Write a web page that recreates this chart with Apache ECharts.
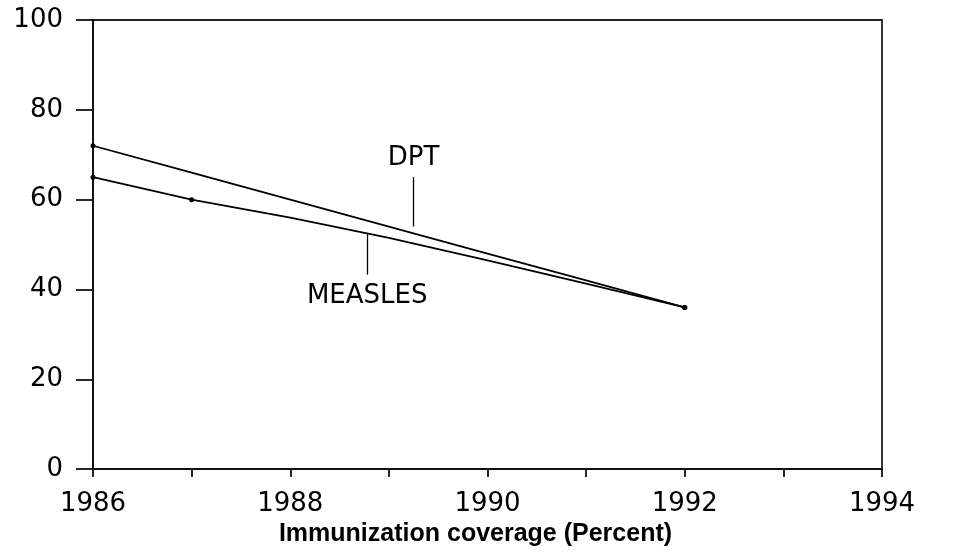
<!DOCTYPE html>
<html>
<head>
<meta charset="utf-8">
<script src="https://cdn.jsdelivr.net/npm/echarts@6/dist/echarts.min.js"></script>
<style>
html,body{margin:0;padding:0;background:#fff;}
#chart{width:968px;height:552px;}
</style>
</head>
<body>
<div id="chart"></div>
<script>
var years = [1986, 1987, 1988, 1989, 1990, 1991, 1992];
var dpt = [72, 66, 60, 54, 48, 42, 36];
var measles = [65, 60, 56, 51.5, 46.5, 41.3, 36];
var markedYearsDPT = [1986, 1992];
var markedYearsMeasles = [1986, 1987, 1992];
var xTickLabels = ['1986', '1988', '1990', '1992', '1994'];
var yTickLabels = ['0', '20', '40', '60', '80', '100'];
var xTitle = 'Immunization coverage (Percent)';
var dptLabel = 'DPT';
var measlesLabel = 'MEASLES';
var dptLeader = {x: 1989.25, from: 54, to: 65};
var measlesLeader = {x: 1988.78, from: 52.3, to: 43.3};

function buildData(vals, marked) {
  return years.map(function (y, i) {
    var item = {value: [y, vals[i]]};
    if (marked.indexOf(y) < 0) item.symbol = 'none';
    return item;
  });
}

var labelFont = 'DejaVu Sans';
var chart = echarts.init(document.getElementById('chart'), null, {renderer: 'canvas'});
chart.setOption({
  animation: false,
  backgroundColor: '#ffffff',
  grid: {left: 93, right: 86, top: 20, bottom: 82, show: true, borderColor: '#222', borderWidth: 1.8, backgroundColor: 'transparent'},
  xAxis: {
    type: 'value', min: 1986, max: 1994, interval: 1,
    name: xTitle, nameLocation: 'middle', nameGap: 49,
    nameTextStyle: {fontFamily: 'Liberation Sans', fontWeight: 'bold', fontSize: 25, color: '#000', padding: [0, 24, 0, 0]},
    axisLine: {show: true, onZero: false, lineStyle: {color: '#111', width: 1.8}},
    axisTick: {show: true, length: 8, lineStyle: {color: '#111', width: 1.8}},
    splitLine: {show: false},
    axisLabel: {
      margin: 22, color: '#000', fontFamily: labelFont, fontSize: 26,
      formatter: function (v) { var s = String(v); return xTickLabels.indexOf(s) >= 0 ? s : ''; }
    }
  },
  yAxis: {
    type: 'value', min: 0, max: 100, interval: 20,
    axisLine: {show: true, onZero: false, lineStyle: {color: '#111', width: 1.8}},
    axisTick: {show: true, length: 17, lineStyle: {color: '#111', width: 1.8}},
    splitLine: {show: false},
    axisLabel: {
      margin: 30, color: '#000', fontFamily: labelFont, fontSize: 26,
      formatter: function (v) { var s = String(v); return yTickLabels.indexOf(s) >= 0 ? s : ''; }
    }
  },
  series: [
    {
      name: 'DPT', type: 'line', data: buildData(dpt, markedYearsDPT),
      symbol: 'circle', symbolSize: 5, showSymbol: true,
      lineStyle: {color: '#000', width: 1.8}, itemStyle: {color: '#000'},
      markLine: {
        silent: true, symbol: ['none', 'none'],
        lineStyle: {color: '#000', width: 1.3, type: 'solid'},
        label: {show: true, position: 'end', distance: 6, formatter: dptLabel, color: '#000', fontFamily: labelFont, fontSize: 26},
        data: [[{coord: [dptLeader.x, dptLeader.from]}, {coord: [dptLeader.x, dptLeader.to]}]]
      }
    },
    {
      name: 'MEASLES', type: 'line', data: buildData(measles, markedYearsMeasles),
      symbol: 'circle', symbolSize: 5, showSymbol: true,
      lineStyle: {color: '#000', width: 1.8}, itemStyle: {color: '#000'},
      markLine: {
        silent: true, symbol: ['none', 'none'],
        lineStyle: {color: '#000', width: 1.3, type: 'solid'},
        label: {show: true, position: 'end', distance: 9, formatter: measlesLabel, color: '#000', fontFamily: labelFont, fontSize: 26},
        data: [[{coord: [measlesLeader.x, measlesLeader.from]}, {coord: [measlesLeader.x, measlesLeader.to]}]]
      }
    }
  ]
});
</script>
</body>
</html>
